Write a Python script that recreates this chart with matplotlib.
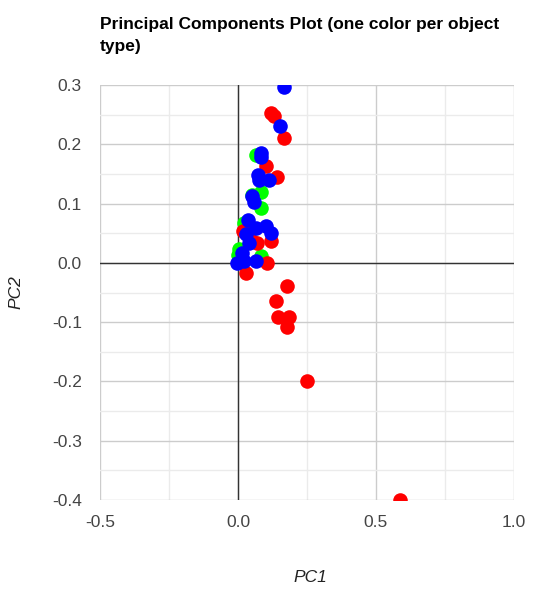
import numpy as np
import matplotlib.pyplot as plt
from matplotlib.ticker import MultipleLocator

plt.rcParams['font.family'] = ['Liberation Sans', 'DejaVu Sans']

# PC1 / PC2 scores, one group per object type
green_pc1 = [0.064, 0.082, 0.082, 0.022, 0.004, 0.082, 0.000, 0.050]
green_pc2 = [0.182, 0.119, 0.092, 0.068, 0.023, 0.011, 0.014, 0.115]

red_pc1 = [0.118, 0.130, 0.168, 0.100, 0.142, 0.118, 0.018, 0.070, 0.052,
           0.106, 0.030, 0.178, 0.139, 0.145, 0.184, 0.178, 0.250, 0.588]
red_pc2 = [0.253, 0.247, 0.210, 0.164, 0.144, 0.037, 0.054, 0.034, 0.037,
           0.000, -0.017, -0.039, -0.065, -0.091, -0.091, -0.108, -0.199, -0.400]

blue_pc1 = [0.168, 0.151, 0.085, 0.085, 0.073, 0.076, 0.112, 0.052, 0.058,
            0.037, 0.100, 0.118, 0.064, 0.028, 0.040, 0.016, 0.064, -0.002,
            0.022]
blue_pc2 = [0.296, 0.230, 0.185, 0.178, 0.148, 0.139, 0.139, 0.113, 0.102,
            0.072, 0.062, 0.051, 0.059, 0.048, 0.034, 0.017, 0.003, 0.000,
            0.003]

fig = plt.figure(figsize=(5.51, 5.98), dpi=100)
ax = fig.add_axes([100 / 551, 98 / 598, 414 / 551, 415 / 598])

ax.scatter(green_pc1, green_pc2, s=110, color='#00ff00', zorder=3, linewidths=0)
ax.scatter(red_pc1, red_pc2, s=110, color='#ff0000', zorder=3, linewidths=0)
ax.scatter(blue_pc1, blue_pc2, s=110, color='#0000ff', zorder=3, linewidths=0)

ax.set_xlim(-0.5, 1.0)
ax.set_ylim(-0.4, 0.3)
ax.xaxis.set_major_locator(MultipleLocator(0.5))
ax.xaxis.set_minor_locator(MultipleLocator(0.25))
ax.yaxis.set_major_locator(MultipleLocator(0.1))
ax.yaxis.set_minor_locator(MultipleLocator(0.05))
ax.grid(True, which='major', color='#cccccc', linewidth=1, zorder=0)
ax.grid(True, which='minor', color='#ebebeb', linewidth=1, zorder=0)
ax.set_axisbelow(True)
ax.axvline(0, color='#333333', linewidth=1, zorder=1)
ax.axhline(0, color='#333333', linewidth=1, zorder=1)

for sp in ax.spines.values():
    sp.set_visible(False)
ax.tick_params(which='both', length=0, labelsize=12.5, colors='#444444')
ax.tick_params(axis='y', pad=13)
ax.tick_params(axis='x', pad=11)
ax.set_xticklabels([f'{v:.1f}' for v in ax.get_xticks()])
ax.set_yticklabels([f'{v:.1f}' for v in ax.get_yticks()])

# axis titles placed directly so they sit where the reference has them
fig.text(310 / 551, 1 - 578 / 598, 'PC1', fontstyle='italic', fontsize=12.5,
         color='#222222', ha='center', va='center')
fig.text(16 / 551, 1 - 292 / 598, 'PC2', fontstyle='italic', fontsize=12.5,
         color='#222222', ha='center', va='center', rotation=90)

fig.text(100 / 551, 1 - 17 / 598, 'Principal Components Plot (one color per object\ntype)',
         fontsize=12.5, fontweight='bold', va='top', ha='left', linespacing=1.6)

fig.savefig('out.png', dpi=100)
plt.close(fig)
